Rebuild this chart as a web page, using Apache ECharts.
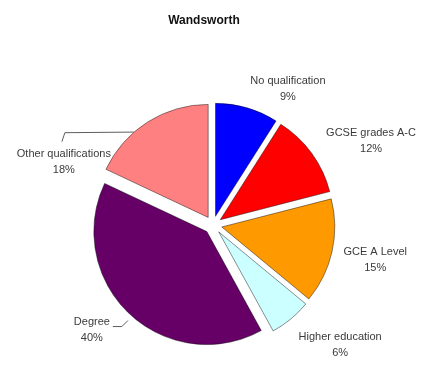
<!DOCTYPE html>
<html>
<head>
<meta charset="utf-8">
<script src="https://cdn.jsdelivr.net/npm/echarts@6/dist/echarts.min.js"></script>
<style>html,body{margin:0;padding:0;background:#fff}#c{width:429px;height:372px}</style>
</head>
<body>
<div id="c"></div>
<script>
const categories = ['No qualification', 'GCSE grades A-C', 'GCE A Level', 'Higher education', 'Degree', 'Other qualifications'];
const values = [9, 12, 15, 6, 40, 18];
const colors = ['#0000FF', '#FF0000', '#FF9900', '#CCFFFF', '#660066', '#FF8080'];

// label placement (style only): distance from pie centre and angular shift vs. slice bisector
const labelDist = [155, 179, 166, 175, 160, 162];
const labelShift = [12.7, 8, -0.4, -7, 6, -34.6];

const CX = 213, CY = 225, R = 113, OFF = 9;
const FONT = 'Liberation Sans, Arial, sans-serif';

const chart = echarts.init(document.getElementById('c'), null, {renderer: 'canvas'});
const total = values.reduce((a, b) => a + b, 0);
const mids = [];
let acc = 0;
values.forEach(v => { mids.push((acc + v / 2) / total * 360); acc += v; });

function polar(angDeg, d) {
  const a = angDeg * Math.PI / 180;
  return [CX + d * Math.sin(a), CY - d * Math.cos(a)];
}

const graphics = [];
categories.forEach((c, i) => {
  const p = polar(mids[i] + labelShift[i], labelDist[i]);
  graphics.push({
    type: 'text', silent: true,
    style: {
      text: c + '\n' + values[i] + '%',
      x: p[0], y: p[1], textAlign: 'center', textVerticalAlign: 'middle',
      font: '11px ' + FONT, fill: '#3a3a3a', lineHeight: 16
    }
  });
  if (i === 5) {
    // leader line from the slice edge to the label
    const edge = polar(mids[i] - 8, R + OFF);
    graphics.push({
      type: 'polyline', silent: true,
      shape: {points: [edge, [p[0] + 1, p[1] - 29], [p[0] - 2, p[1] - 20]]},
      style: {stroke: '#333', lineWidth: 0.8, fill: null}
    });
  }
  if (i === 4) {
    graphics.push({
      type: 'polyline', silent: true,
      shape: {points: [[p[0] + 21, p[1] - 3], [p[0] + 30, p[1] - 3], [p[0] + 36, p[1] - 9]]},
      style: {stroke: '#333', lineWidth: 0.8, fill: null}
    });
  }
});

chart.setOption({
  animation: false,
  title: {
    text: 'Wandsworth', left: 199, top: 10, textAlign: 'center',
    textStyle: {fontFamily: FONT, fontSize: 12, fontWeight: 'bold', color: '#111'}
  },
  graphic: graphics,
  series: [{
    type: 'pie',
    center: [CX, CY],
    radius: R,
    startAngle: 90,
    clockwise: true,
    selectedMode: 'multiple',
    selectedOffset: OFF,
    itemStyle: {borderColor: 'rgba(0,0,0,0.55)', borderWidth: 0.8},
    emphasis: {disabled: true},
    label: {show: false},
    labelLine: {show: false},
    data: categories.map((c, i) => ({
      name: c, value: values[i], selected: true,
      itemStyle: {color: colors[i]}
    }))
  }]
});
</script>
</body>
</html>
